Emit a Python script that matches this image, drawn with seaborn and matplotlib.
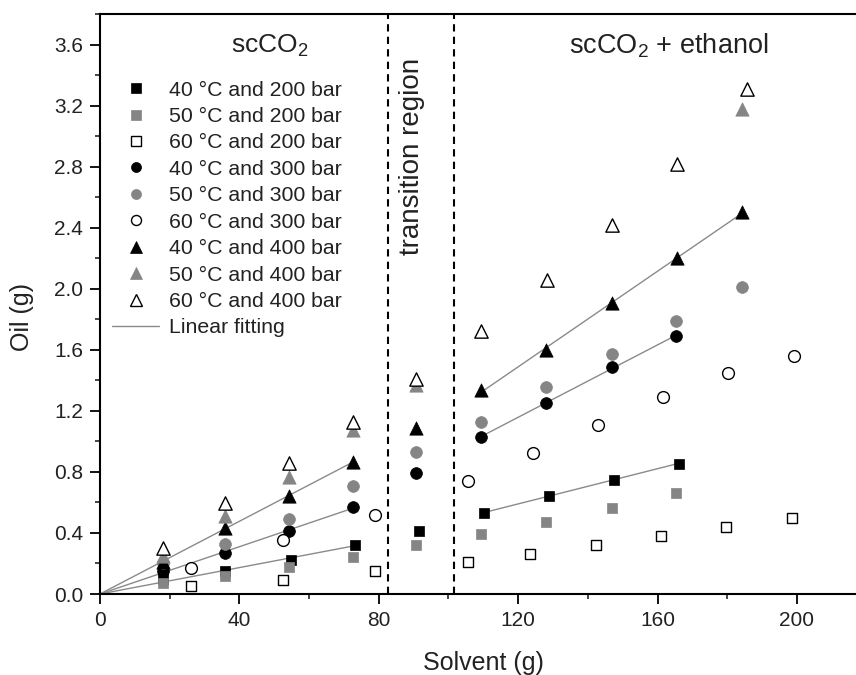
import numpy as np
import pandas as pd
import matplotlib
matplotlib.use("Agg")
import matplotlib.pyplot as plt
from matplotlib.ticker import MultipleLocator
from matplotlib.lines import Line2D
import seaborn as sns

# ---------------- data ----------------
labels = ["40 °C and 200 bar", "50 °C and 200 bar", "60 °C and 200 bar",
          "40 °C and 300 bar", "50 °C and 300 bar", "60 °C and 300 bar",
          "40 °C and 400 bar", "50 °C and 400 bar", "60 °C and 400 bar"]

x_40_200 = [18.0, 36.0, 54.9, 73.3, 91.5, 110.1, 128.7, 147.6, 166.2]
y_40_200 = [0.10, 0.15, 0.225, 0.324, 0.41, 0.53, 0.645, 0.75, 0.855]

x_50_200 = [18.0, 36.0, 54.2, 72.6, 90.7, 109.4, 128.0, 146.8, 165.4]
y_50_200 = [0.07, 0.12, 0.18, 0.245, 0.32, 0.39, 0.475, 0.565, 0.66]

x_60_200 = [26.0, 52.5, 79.0, 105.5, 123.5, 142.3, 160.9, 179.7, 198.5]
y_60_200 = [0.05, 0.094, 0.15, 0.21, 0.26, 0.32, 0.38, 0.44, 0.50]

x_40_300 = [18.0, 36.0, 54.2, 72.6, 90.7, 109.4, 128.0, 146.8, 165.4]
y_40_300 = [0.15, 0.267, 0.41, 0.573, 0.79, 1.03, 1.252, 1.484, 1.691]

x_50_300 = [18.0, 36.0, 54.2, 72.6, 90.7, 109.4, 128.0, 146.8, 165.4, 184.3]
y_50_300 = [0.20, 0.33, 0.49, 0.71, 0.93, 1.13, 1.357, 1.571, 1.788, 2.013]

x_60_300 = [26.0, 52.5, 79.0, 105.5, 124.2, 143.0, 161.6, 180.3, 199.1]
y_60_300 = [0.17, 0.355, 0.515, 0.739, 0.923, 1.105, 1.289, 1.451, 1.558]

x_40_400 = [18.0, 36.0, 54.2, 72.6, 90.7, 109.4, 128.0, 146.9, 165.7, 184.3]
y_40_400 = [0.21, 0.433, 0.645, 0.864, 1.09, 1.339, 1.597, 1.904, 2.20, 2.506]

x_50_400 = [18.0, 36.0, 54.2, 72.6, 90.7, 184.3]
y_50_400 = [0.25, 0.514, 0.766, 1.072, 1.37, 3.18]

x_60_400 = [18.0, 36.0, 54.2, 72.6, 90.7, 109.4, 128.2, 146.9, 165.7, 185.6]
y_60_400 = [0.30, 0.595, 0.857, 1.127, 1.41, 1.724, 2.06, 2.42, 2.82, 3.31]

xs = [x_40_200, x_50_200, x_60_200, x_40_300, x_50_300, x_60_300,
      x_40_400, x_50_400, x_60_400]
ys = [y_40_200, y_50_200, y_60_200, y_40_300, y_50_300, y_60_300,
      y_40_400, y_50_400, y_60_400]

region_bounds = [82.6, 101.7]          # dashed separators
fit_series = ["40 °C and 200 bar", "40 °C and 300 bar", "40 °C and 400 bar"]
x_ticks = [0, 40, 80, 120, 160, 200]
y_ticks = [0.0, 0.4, 0.8, 1.2, 1.6, 2.0, 2.4, 2.8, 3.2, 3.6]

df = pd.concat([pd.DataFrame({"Solvent": x, "Oil": y, "series": lab})
                for x, y, lab in zip(xs, ys, labels)], ignore_index=True)

# ---------------- styles ----------------
GRAY = "#858585"
marker_of = {"200": "s", "300": "o", "400": "^"}
size_of = {"200": 62, "300": 72, "400": 92}

def style(label):
    t, p = label[:2], label.split()[3]
    if t == "40":
        fc, ec = "black", "black"
    elif t == "50":
        fc, ec = GRAY, GRAY
    else:
        fc, ec = "white", "black"
    return marker_of[p], size_of[p], fc, ec

sns.set_theme(style="ticks")
plt.rcParams["font.family"] = ["Liberation Sans", "DejaVu Sans"]
plt.rcParams["mathtext.default"] = "regular"

fig = plt.figure(figsize=(8.56, 6.75), dpi=100)
W = 220 * 3.485
ax = fig.add_axes([100 / 856, 81 / 675, W / 856, 580 / 675])

handles = []
for i, lab in enumerate(labels):
    m, s, fc, ec = style(lab)
    sub = df[df["series"] == lab]
    sns.scatterplot(data=sub, x="Solvent", y="Oil", marker=m, s=s,
                    color=fc, edgecolor=ec, linewidth=1.0 if fc == "white" else 0.5,
                    ax=ax, legend=False, zorder=3 + i)
    handles.append(Line2D([], [], linestyle="none", marker=m,
                          markersize=np.sqrt(s) * 0.85,
                          markerfacecolor=fc, markeredgecolor=ec,
                          markeredgewidth=1.0 if fc == "white" else 0.5))

# linear fits (scCO2 through origin, scCO2+ethanol ordinary)
fit_color = "#8a8a8a"
for lab in fit_series:
    sub = df[df["series"] == lab]
    a = sub[sub["Solvent"] < region_bounds[0]]
    slope = (a["Solvent"] * a["Oil"]).sum() / (a["Solvent"] ** 2).sum()
    xf = np.array([0.0, a["Solvent"].max()])
    sns.lineplot(x=xf, y=slope * xf, color=fit_color, linewidth=1.0, ax=ax,
                 zorder=2, legend=False)
    b = sub[sub["Solvent"] > region_bounds[1]]
    k, c = np.polyfit(b["Solvent"], b["Oil"], 1)
    xf = np.array([b["Solvent"].min(), b["Solvent"].max()])
    sns.lineplot(x=xf, y=k * xf + c, color=fit_color, linewidth=1.0, ax=ax,
                 zorder=2, legend=False)
handles.append(Line2D([], [], color=fit_color, linewidth=1.0))

for xb in region_bounds:
    ax.axvline(xb, color="black", linewidth=1.5, dashes=(3.5, 2.5), zorder=1)

ax.set_xlim(0, 220)
ax.set_ylim(0, 3.8)
ax.set_xticks(x_ticks)
ax.set_yticks(y_ticks)
ax.set_yticklabels([f"{v:.1f}" for v in y_ticks])
ax.xaxis.set_minor_locator(MultipleLocator(20))
ax.yaxis.set_minor_locator(MultipleLocator(0.2))
ax.tick_params(which="major", direction="out", length=7, width=1.3,
               labelsize=15, pad=5, colors="black", labelcolor="#222222")
ax.tick_params(which="minor", direction="out", length=3.8, width=1.2)
for sp in ["left", "bottom", "top"]:
    ax.spines[sp].set_linewidth(1.5)
    ax.spines[sp].set_color("black")
ax.spines["right"].set_visible(False)

ax.set_xlabel("Solvent (g)", fontsize=18, color="#222222")
ax.set_ylabel("Oil (g)", fontsize=18, color="#222222")
ax.xaxis.set_label_coords(0.5, -0.099)
ax.yaxis.set_label_coords(-0.086, 0.477)

ax.text(48.8, 3.59, "scCO$_2$", fontsize=19, ha="center", va="center", color="#222222")
ax.text(163.1, 3.59, "scCO$_2$ + ethanol", fontsize=19.5, ha="center", va="center",
        color="#222222")
ax.text(89.5, 2.87, "transition region", fontsize=20, rotation=90,
        ha="center", va="center", color="#222222")

leg = ax.legend(handles, labels + ["Linear fitting"], loc="upper left",
                bbox_to_anchor=(0.005, 0.9), frameon=False, fontsize=15.3,
                handlelength=2.2, handletextpad=0.45, labelspacing=0.35,
                borderaxespad=0, borderpad=0.4)
for t in leg.get_texts():
    t.set_color("#222222")

fig.savefig("out.png", dpi=100)
